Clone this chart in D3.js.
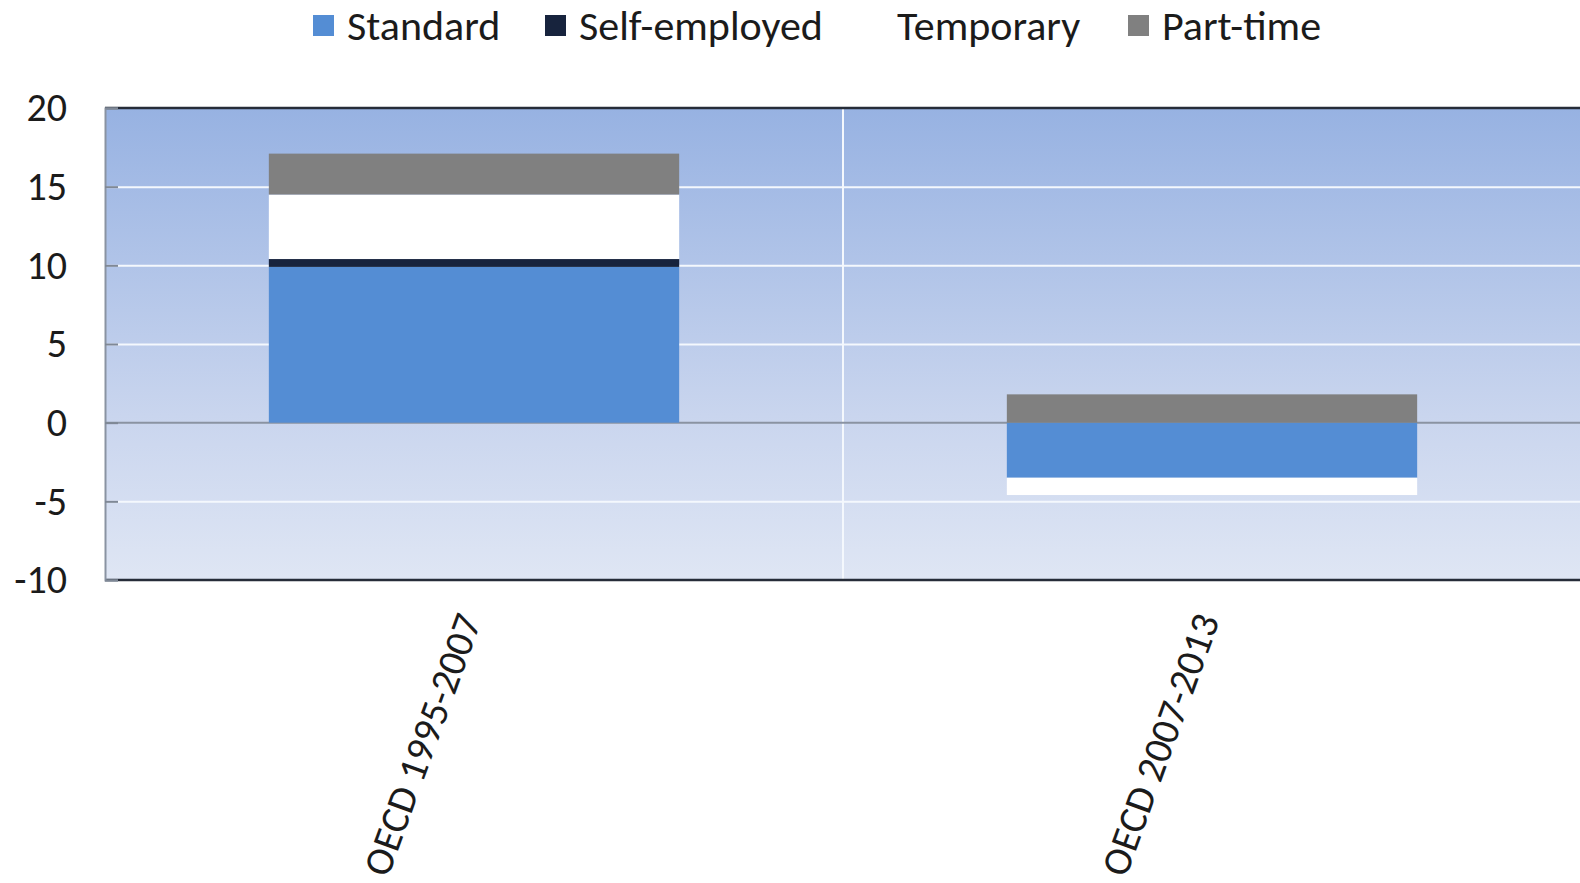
<!DOCTYPE html>
<html>
<head>
<meta charset="utf-8">
<script src="https://cdn.jsdelivr.net/npm/d3@7"></script>
<style>
  html, body { margin: 0; padding: 0; background: #fff; }
  svg { display: block; }
  text { font-family: "Carlito", "Liberation Sans Narrow", "Lato", sans-serif; fill: #1b1b1b; }
</style>
</head>
<body>
<svg id="chart" width="1580" height="883"></svg>
<script>
// ---- Data ----
const categories = ["OECD 1995-2007", "OECD 2007-2013"];
const seriesNames = ["Standard", "Self-employed", "Temporary", "Part-time"];
const standard = [9.9, -3.5];
const selfEmployed = [0.5, 0.0];
const temporary = [4.1, -1.1];
const partTime = [2.6, 1.8];
const yTicks = [-10, -5, 0, 5, 10, 15, 20];

// ---- Styles / layout ----
const colors = ["#548dd4", "#17233d", "#ffffff", "#808080"];
const plot = { left: 105, right: 1581, top: 108, bottom: 580 };
const barFrac = 0.556;

const rows = categories.map((c, i) => ({
  cat: c,
  "Standard": standard[i],
  "Self-employed": selfEmployed[i],
  "Temporary": temporary[i],
  "Part-time": partTime[i]
}));

const svg = d3.select("#chart");

const x = d3.scaleBand().domain(categories).range([plot.left, plot.right]).padding(0);
const y = d3.scaleLinear().domain([-10, 20]).range([plot.bottom, plot.top]);

// background gradient
const defs = svg.append("defs");
const grad = defs.append("linearGradient").attr("id", "bg").attr("x1", 0).attr("y1", 0).attr("x2", 0).attr("y2", 1);
grad.append("stop").attr("offset", "0%").attr("stop-color", "#97b2e2");
grad.append("stop").attr("offset", "65%").attr("stop-color", "#c9d5ee");
grad.append("stop").attr("offset", "100%").attr("stop-color", "#dfe6f4");

svg.append("rect")
  .attr("x", plot.left).attr("y", plot.top)
  .attr("width", plot.right - plot.left).attr("height", plot.bottom - plot.top)
  .attr("fill", "url(#bg)");

// horizontal gridlines (white)
svg.append("g")
  .attr("transform", `translate(${plot.left},0)`)
  .call(d3.axisLeft(y).tickValues(yTicks.filter(v => v !== 0 && v !== 20 && v !== -10))
    .tickSize(-(plot.right - plot.left)).tickFormat(""))
  .call(g => g.select(".domain").remove())
  .call(g => g.selectAll("line").attr("stroke", "#f4f8fd").attr("stroke-width", 2));

// vertical category separators
svg.append("g").selectAll("line")
  .data(categories.slice(1))
  .join("line")
  .attr("x1", d => x(d)).attr("x2", d => x(d))
  .attr("y1", plot.top).attr("y2", plot.bottom)
  .attr("stroke", "#f4f8fd").attr("stroke-width", 2);

// zero line
svg.append("line")
  .attr("x1", plot.left).attr("x2", plot.right)
  .attr("y1", y(0)).attr("y2", y(0))
  .attr("stroke", "#8a93a2").attr("stroke-width", 2);

// stacked bars
const stack = d3.stack().keys(seriesNames).offset(d3.stackOffsetDiverging);
const layers = stack(rows);
const bw = x.bandwidth() * barFrac;

svg.append("g").selectAll("g")
  .data(layers)
  .join("g")
  .attr("fill", (d, i) => colors[i])
  .selectAll("rect")
  .data(d => d)
  .join("rect")
  .attr("x", d => x(d.data.cat) + (x.bandwidth() - bw) / 2)
  .attr("width", bw)
  .attr("y", d => y(Math.max(d[0], d[1])))
  .attr("height", d => Math.abs(y(d[0]) - y(d[1])));

// top and bottom borders
[20, -10].forEach(v => {
  svg.append("line")
    .attr("x1", plot.left).attr("x2", plot.right)
    .attr("y1", y(v)).attr("y2", y(v))
    .attr("stroke", "#262c38").attr("stroke-width", 2.5);
});

// left axis
svg.append("g")
  .attr("transform", `translate(${plot.left},0)`)
  .call(d3.axisLeft(y).tickValues(yTicks).tickSize(-13).tickPadding(38).tickFormat(d => String(d)))
  .call(g => g.select(".domain").attr("stroke", "#8a93a2").attr("stroke-width", 2))
  .call(g => g.selectAll(".tick line").attr("stroke", "#7f8896").attr("stroke-width", 2))
  .call(g => g.selectAll(".tick text")
    .attr("font-size", 40)
    .attr("font-family", "Carlito, 'Liberation Sans Narrow', Lato, sans-serif")
    .attr("fill", "#1b1b1b"));

// x labels (rotated)
svg.append("g").selectAll("text")
  .data(categories)
  .join("text")
  .attr("transform", d => `translate(${x(d) + x.bandwidth() / 2 + 8},${620}) rotate(-70)`)
  .attr("text-anchor", "end")
  .attr("font-size", 40)
  .text(d => d);

// legend
const legendX = [313, 545, 863, 1128];
const legend = svg.append("g");
seriesNames.forEach((name, i) => {
  const g = legend.append("g").attr("transform", `translate(${legendX[i]},0)`);
  g.append("rect").attr("x", 0).attr("y", 15).attr("width", 21).attr("height", 21).attr("fill", colors[i]);
  g.append("text").attr("x", 34).attr("y", 40).attr("font-size", 42).text(name);
});
</script>
</body>
</html>
